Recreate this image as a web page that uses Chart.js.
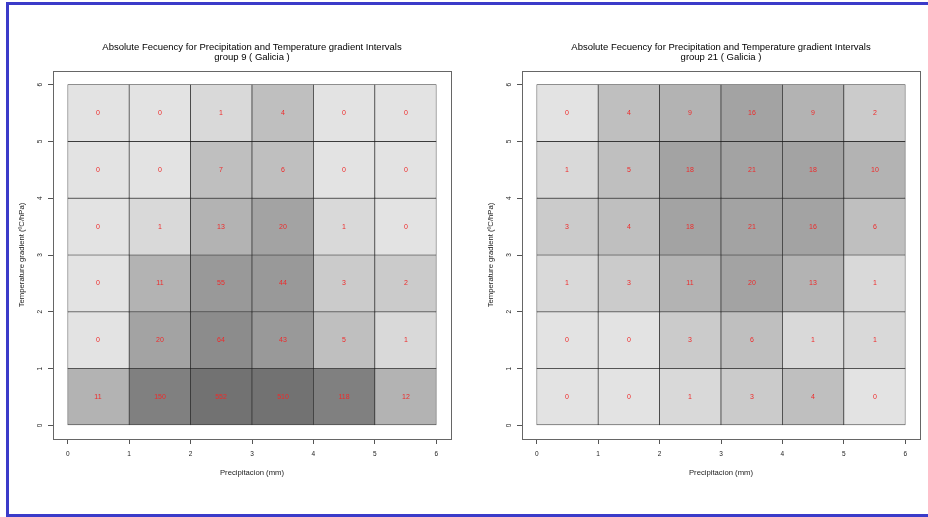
<!DOCTYPE html>
<html>
<head>
<meta charset="utf-8">
<script src="https://cdn.jsdelivr.net/npm/chart.js@4.4.1/dist/chart.umd.min.js"></script>
<style>
  html, body { margin: 0; padding: 0; background: #fff; overflow: hidden; }
  body { width: 928px; height: 517px; position: relative; }
  .panel { position: absolute; top: 0; width: 469px; height: 517px; }
  #border { position: absolute; left: 6px; top: 2px; width: 1000px; height: 509px; border: 3px solid #3b3bc9; pointer-events: none; }
</style>
</head>
<body>
<div class="panel" style="left:0"><canvas id="g9" width="469" height="517"></canvas></div>
<div class="panel" style="left:469px"><canvas id="g21" width="469" height="517"></canvas></div>
<div id="border"></div>
<script>
// interval starts: precipitation (columns) and temperature gradient (rows)
const precipBins = [0, 1, 2, 3, 4, 5];
const tempBins = [0, 1, 2, 3, 4, 5];
const axisTicks = [0, 1, 2, 3, 4, 5, 6];

// counts, one row per temperature interval, bottom row first
const group9 = [
  [11, 150, 552, 510, 118, 12],
  [0, 20, 64, 43, 5, 1],
  [0, 11, 55, 44, 3, 2],
  [0, 1, 13, 20, 1, 0],
  [0, 0, 7, 6, 0, 0],
  [0, 0, 1, 4, 0, 0]
];
const group21 = [
  [0, 0, 1, 3, 4, 0],
  [0, 0, 3, 6, 1, 1],
  [1, 3, 11, 20, 13, 1],
  [3, 4, 18, 21, 16, 6],
  [1, 5, 18, 21, 18, 10],
  [0, 4, 9, 16, 9, 2]
];

// grey shade for each count class
const greyBreaks = [0, 1, 2, 4, 9, 16, 31, 61, 101, 301];
const greyColors = ['#e3e3e3', '#d9d9d9', '#cbcbcb', '#bfbfbf', '#b3b3b3', '#a3a3a3', '#999999', '#8c8c8c', '#808080', '#727272'];

const FONT = '"Liberation Sans", Arial, sans-serif';
Chart.defaults.font.family = FONT;

function grey(n) {
  let k = 0;
  greyBreaks.forEach((b, i) => { if (n >= b) k = i; });
  return greyColors[k];
}

function cells(counts) {
  const pts = [];
  tempBins.forEach((t, r) => {
    precipBins.forEach((p, c) => {
      pts.push({ x: p + 0.5, y: [t, t + 1], n: counts[r][c] });
    });
  });
  return pts;
}

// red count in the middle of every cell
const cellLabels = {
  id: 'cellLabels',
  afterDatasetsDraw(chart) {
    const ctx = chart.ctx;
    const ds = chart.data.datasets[0];
    ctx.save();
    ctx.fillStyle = '#ee2a2a';
    ctx.font = '7px ' + FONT;
    ctx.textAlign = 'center';
    ctx.textBaseline = 'middle';
    chart.getDatasetMeta(0).data.forEach((bar, i) => {
      const c = bar.getCenterPoint();
      ctx.fillText(String(ds.data[i].n), Math.round(c.x), Math.round(c.y));
    });
    ctx.restore();
  }
};

// box round the plot region, like R's box()
const plotBox = {
  id: 'plotBox',
  afterDraw(chart) {
    const a = chart.chartArea, ctx = chart.ctx;
    ctx.save();
    ctx.strokeStyle = '#666';
    ctx.lineWidth = 1;
    ctx.strokeRect(Math.round(a.left) + 0.5, Math.round(a.top) + 0.5,
      Math.round(a.right - a.left), Math.round(a.bottom - a.top));
    ctx.restore();
  }
};

function axis(extra) {
  return Object.assign({
    type: 'linear',
    min: -0.24,
    max: 6.24,
    offset: false,
    afterBuildTicks: s => { s.ticks = axisTicks.map(v => ({ value: v })); },
    grid: { offset: false, drawOnChartArea: false, drawTicks: true, tickLength: 5, color: '#555' },
    border: { display: false },
  }, extra);
}

function makeChart(id, counts, name) {
  const data = cells(counts);
  new Chart(document.getElementById(id), {
    type: 'bar',
    data: {
      datasets: [{
        data: data,
        backgroundColor: data.map(d => grey(d.n)),
        borderColor: 'rgba(20,20,20,0.85)',
        borderWidth: 0.7,
        borderSkipped: false,
        barPercentage: 1,
        categoryPercentage: 1
      }]
    },
    options: {
      responsive: false,
      animation: false,
      devicePixelRatio: 1,
      layout: { padding: { left: 0, right: 18, top: 0, bottom: 0 } },
      plugins: {
        legend: { display: false },
        tooltip: { enabled: false },
        title: {
          display: true,
          fullSize: false,
          text: ['Absolute Fecuency for Precipitation and Temperature gradient Intervals', name],
          color: '#000',
          font: { size: 9.5, weight: 'normal', lineHeight: '10px' },
          padding: { top: 42, bottom: 9 }
        }
      },
      scales: {
        x: axis({
          afterFit: s => { s.height = 78; },
          ticks: { padding: 6, color: '#222', font: { size: 6.5 }, maxRotation: 0, autoSkip: false },
          title: { display: true, text: 'Precipitacion (mm)', color: '#222',
            font: { size: 7.7 }, padding: { top: 0, bottom: 39.4 } }
        }),
        y: axis({
          afterFit: s => { s.width = 53; },
          ticks: { padding: 6, color: '#222', font: { size: 6.5 }, minRotation: 90, maxRotation: 90,
            crossAlign: 'center', autoSkip: false },
          title: { display: true, text: 'Temperature gradient (ºC/hPa)', color: '#222',
            font: { size: 7.7 }, padding: { top: 17.4, bottom: 0 } }
        })
      }
    },
    plugins: [cellLabels, plotBox]
  });
}

makeChart('g9', group9, 'group 9 ( Galicia )');
makeChart('g21', group21, 'group 21 ( Galicia )');
</script>
</body>
</html>
